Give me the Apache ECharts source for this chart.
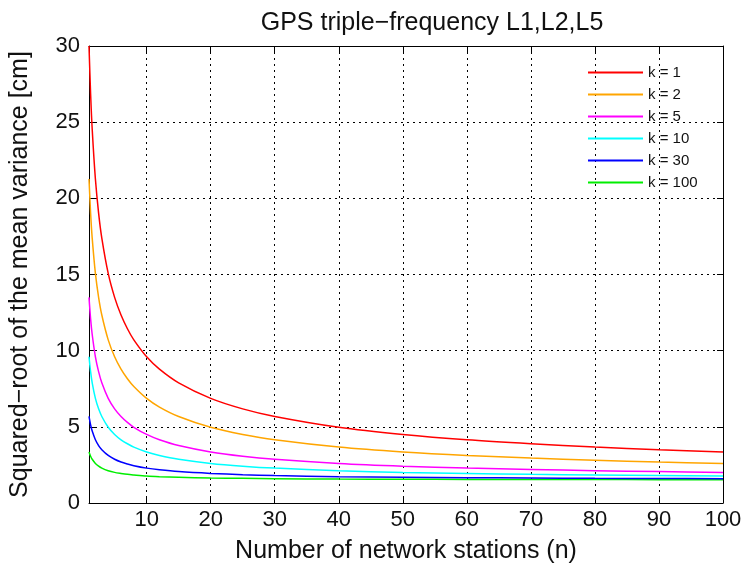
<!DOCTYPE html>
<html>
<head>
<meta charset="utf-8">
<script src="https://cdn.jsdelivr.net/npm/echarts@6/dist/echarts.min.js"></script>
<style>
html,body{margin:0;padding:0;background:#fff;}
#c{width:753px;height:574px;}
</style>
</head>
<body>
<div id="c"></div>
<script>
const nValues = [1, 1.25, 1.5, 2, 2.5, 3, 4, 5, 6, 7, 8, 10, 12, 15, 20, 25, 30, 40, 50, 60, 70, 80, 90, 100];
const k1   = [30.0, 26.87, 24.54, 21.27, 19.03, 17.39, 15.07, 13.50, 12.34, 11.44, 10.71, 9.60, 8.79, 7.89, 6.87, 6.18, 5.68, 4.97, 4.50, 4.15, 3.89, 3.67, 3.50, 3.35];
const k2   = [21.27, 19.03, 17.39, 15.07, 13.50, 12.34, 10.71, 9.60, 8.79, 8.16, 7.65, 6.87, 6.30, 5.68, 4.97, 4.50, 4.15, 3.67, 3.35, 3.12, 2.95, 2.81, 2.69, 2.60];
const k5   = [13.50, 12.09, 11.06, 9.60, 8.62, 7.89, 6.87, 6.18, 5.68, 5.29, 4.97, 4.50, 4.15, 3.77, 3.35, 3.07, 2.87, 2.60, 2.42, 2.29, 2.20, 2.12, 2.06, 2.01];
const k10  = [9.60, 8.62, 7.89, 6.87, 6.18, 5.68, 4.97, 4.50, 4.15, 3.89, 3.67, 3.35, 3.12, 2.87, 2.60, 2.42, 2.29, 2.12, 2.01, 1.94, 1.88, 1.84, 1.80, 1.77];
const k30  = [5.68, 5.12, 4.72, 4.15, 3.77, 3.50, 3.12, 2.87, 2.69, 2.56, 2.45, 2.29, 2.18, 2.06, 1.94, 1.86, 1.80, 1.73, 1.69, 1.66, 1.64, 1.62, 1.61, 1.60];
const k100 = [3.35, 3.07, 2.87, 2.60, 2.42, 2.29, 2.12, 2.01, 1.94, 1.88, 1.84, 1.77, 1.73, 1.69, 1.64, 1.62, 1.60, 1.57, 1.56, 1.55, 1.54, 1.54, 1.53, 1.53];
const seriesNames = ['k = 1', 'k = 2', 'k = 5', 'k = 10', 'k = 30', 'k = 100'];
const seriesData = [k1, k2, k5, k10, k30, k100];
const colors = ['#ff0000', '#ffa500', '#ff00ff', '#00ffff', '#0000ff', '#00ee00'];
const xTicks = [10, 20, 30, 40, 50, 60, 70, 80, 90, 100];

const FONT = '"Liberation Sans", Arial, Helvetica, sans-serif';
const chart = echarts.init(document.getElementById('c'), null, {renderer: 'canvas'});
const gridLine = {show: true, lineStyle: {color: '#000', type: [2, 4], width: 1}};
const option = {
  animation: false,
  backgroundColor: '#fff',
  color: colors,
  title: {
    text: 'GPS triple\u2212frequency L1,L2,L5',
    left: 427, top: 6, textAlign: 'center',
    textStyle: {fontFamily: FONT, fontSize: 25, fontWeight: 'normal', color: '#111'}
  },
  legend: {
    orient: 'vertical', left: 583, top: 60,
    itemWidth: 55, itemHeight: 2, itemGap: 7,
    icon: 'rect',
    textStyle: {fontFamily: FONT, fontSize: 15, color: '#111'},
    data: seriesNames
  },
  grid: {left: 89, right: 30, top: 46, bottom: 71, containLabel: false},
  xAxis: [{
    type: 'value', min: 1, max: 100, position: 'bottom',
    name: 'Number of network stations (n)', nameLocation: 'middle', nameGap: 36,
    nameTextStyle: {fontFamily: FONT, fontSize: 25, color: '#111'},
    axisLine: {show: true, onZero: false, lineStyle: {color: '#000', width: 1}},
    axisTick: {show: true, inside: true, length: 6, customValues: xTicks, lineStyle: {color: '#000'}},
    axisLabel: {customValues: xTicks, fontFamily: FONT, fontSize: 22, color: '#111', margin: 6},
    splitLine: gridLine
  }, {
    type: 'value', min: 1, max: 100, position: 'top',
    axisLine: {show: true, onZero: false, lineStyle: {color: '#000', width: 1}},
    axisTick: {show: true, inside: true, length: 6, customValues: xTicks, lineStyle: {color: '#000'}},
    axisLabel: {show: false},
    splitLine: {show: false}
  }],
  yAxis: [{
    type: 'value', min: 0, max: 30, interval: 5, position: 'left',
    name: 'Squared\u2212root of the mean variance [cm]', nameLocation: 'middle', nameGap: 56,
    nameTextStyle: {fontFamily: FONT, fontSize: 25, color: '#111'},
    axisLine: {show: true, onZero: false, lineStyle: {color: '#000', width: 1}},
    axisTick: {show: true, inside: true, length: 6, lineStyle: {color: '#000'}},
    axisLabel: {fontFamily: FONT, fontSize: 22, color: '#111', margin: 9},
    splitLine: gridLine
  }, {
    type: 'value', min: 0, max: 30, interval: 5, position: 'right',
    axisLine: {show: true, onZero: false, lineStyle: {color: '#000', width: 1}},
    axisTick: {show: true, inside: true, length: 6, lineStyle: {color: '#000'}},
    axisLabel: {show: false},
    splitLine: {show: false}
  }],
  series: seriesNames.map((name, i) => ({
    name: name,
    type: 'line',
    xAxisIndex: 0, yAxisIndex: 0,
    data: nValues.map((n, j) => [n, seriesData[i][j]]),
    smooth: 0.3,
    showSymbol: false,
    symbol: 'none',
    lineStyle: {width: 1.5, color: colors[i]},
    itemStyle: {color: colors[i]},
    z: 10 - i
  }))
};
chart.setOption(option);
</script>
</body>
</html>
